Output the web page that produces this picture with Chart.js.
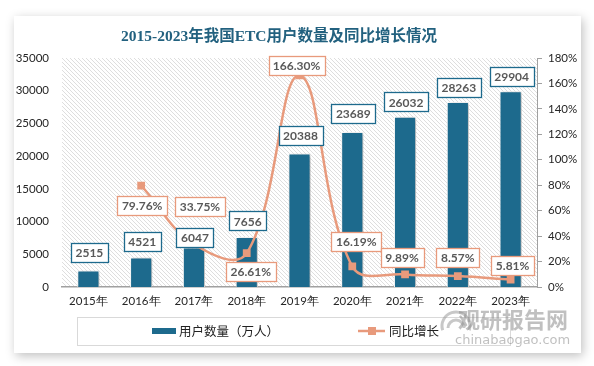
<!DOCTYPE html>
<html>
<head>
<meta charset="utf-8">
<script src="https://cdn.jsdelivr.net/npm/chart.js@4.4.1/dist/chart.umd.min.js"></script>
<style>
  html, body { margin: 0; padding: 0; background: #fff; }
  #card { position: absolute; left: 14px; top: 16px; width: 567px; height: 337px; background: #fff;
          box-shadow: 2px 3px 10px rgba(0,0,0,0.25); }
  #c { position: absolute; left: 0; top: 0; }
</style>
</head>
<body>
<div id="card"></div>
<canvas id="c" width="594" height="366"></canvas>
<script>
// data
const years = ['2015年', '2016年', '2017年', '2018年', '2019年', '2020年', '2021年', '2022年', '2023年'];
const users = [2515, 4521, 6047, 7656, 20388, 23689, 26032, 28263, 29904];
const growth = [null, 79.76, 33.75, 26.61, 166.30, 16.19, 9.89, 8.57, 5.81];
const userTicks = [0, 5000, 10000, 15000, 20000, 25000, 30000, 35000];
const growthTicks = [0, 20, 40, 60, 80, 100, 120, 140, 160, 180];

// where the labels sit (box centre relative to the mark)
const barLabelGap = [8, 6, 0, 6, 8, 9, 5, 5, 5];
const lineLabelDx = [0, 1, 6, 4, -3, 4, -3, 0, 2];
const lineLabelDy = [0, 20, -38, 18, -10, -25, -17, -19, -14];

const BLUE = '#1d6a8d';
const SALMON = '#e89a7c';
const LABEL_FONT = 'bold 12px Lato, "Noto Sans", sans-serif';

// hatch for plot background
const hatch = (function(){
    const c = document.createElement('canvas');
    c.width = 4; c.height = 4;
    const g = c.getContext('2d');
    g.fillStyle = '#fff';
    g.fillRect(0, 0, 4, 4);
    g.strokeStyle = '#dedede';
    g.lineWidth = 1;
    g.beginPath();
    g.moveTo(-1, -1); g.lineTo(5, 5);
    g.moveTo(-1, 3); g.lineTo(1, 5);
    g.moveTo(3, -1); g.lineTo(5, 1);
    g.stroke();
    return c;
})();

function labelBox(ctx, text, cx, cy, border) {
    ctx.font = LABEL_FONT;
    const w = Math.round(ctx.measureText(text).width) + 9;
    const h = 19;
    const x = Math.round(cx - w / 2) + 0.5, y = Math.round(cy - h / 2) + 0.5;
    ctx.fillStyle = '#fff';
    ctx.fillRect(x, y, w, h);
    ctx.strokeStyle = border;
    ctx.lineWidth = 1.3;
    ctx.strokeRect(x, y, w, h);
    ctx.fillStyle = '#595959';
    ctx.textAlign = 'center';
    ctx.textBaseline = 'middle';
    ctx.fillText(text, cx, cy + 1);
}

const extras = {
    id: 'extras',
    beforeDraw(chart) {
        const { ctx, chartArea: a } = chart;
        ctx.save();
        ctx.fillStyle = ctx.createPattern(hatch, 'repeat');
        ctx.fillRect(a.left, a.top, a.right - a.left, a.bottom - a.top);
        ctx.restore();
    },
    beforeDatasetDraw(chart, args) {
        if (args.index === 0) {
            const ctx = chart.ctx;
            ctx.save();
            ctx.shadowColor = 'rgba(0,0,0,0.3)';
            ctx.shadowBlur = 4;
            ctx.shadowOffsetX = 2;
            ctx.shadowOffsetY = 1;
        }
    },
    afterDatasetDraw(chart, args) {
        if (args.index === 0) chart.ctx.restore();
    },
    afterDatasetsDraw(chart) {
        const ctx = chart.ctx;
        ctx.save();
        const bars = chart.getDatasetMeta(0).data;
        bars.forEach((b, i) => {
            labelBox(ctx, String(users[i]), b.x + 1, b.y - barLabelGap[i] - 10, BLUE);
        });
        const pts = chart.getDatasetMeta(1).data;
        pts.forEach((p, i) => {
            if (growth[i] == null) return;
            labelBox(ctx, growth[i].toFixed(2) + '%', p.x + lineLabelDx[i], p.y + lineLabelDy[i], SALMON);
        });
        ctx.restore();
    },
    afterDraw(chart) {
        const { ctx, chartArea: a } = chart;
        ctx.save();
        // title
        ctx.fillStyle = '#22617f';
        ctx.font = 'bold 15.5px "Liberation Serif", "Noto Sans CJK SC", serif';
        ctx.textAlign = 'center';
        ctx.textBaseline = 'middle';
        ctx.fillText('2015-2023年我国ETC用户数量及同比增长情况', 279, 37);

        // odd little tick marks under the axis
        ctx.strokeStyle = '#555';
        ctx.lineWidth = 1;
        chart.getDatasetMeta(0).data.forEach(b => {
            const x = Math.round(b.x + b.width / 2) + 0.5;
            ctx.beginPath();
            ctx.moveTo(x, a.bottom + 9);
            ctx.lineTo(x, a.bottom + 14);
            ctx.stroke();
        });

        // legend
        ctx.strokeStyle = '#d9d9d9';
        ctx.strokeRect(77.5, 317.5, 433, 28);
        ctx.fillStyle = BLUE;
        ctx.fillRect(152, 328, 24, 6);
        ctx.strokeStyle = SALMON;
        ctx.lineWidth = 2.5;
        ctx.beginPath();
        ctx.moveTo(358, 331); ctx.lineTo(385, 331);
        ctx.stroke();
        ctx.fillStyle = SALMON;
        ctx.fillRect(368, 327, 8, 8);
        ctx.fillStyle = '#222';
        ctx.font = '12.5px "Noto Sans CJK SC", sans-serif';
        ctx.textAlign = 'left';
        ctx.fillText('用户数量（万人）', 179, 331);
        ctx.fillText('同比增长', 389, 331);

        // watermark
        ctx.globalAlpha = 0.55;
        ctx.strokeStyle = '#9a9a9a';
        ctx.lineWidth = 3;
        ctx.beginPath();
        ctx.arc(456, 326, 14, Math.PI * 0.9, Math.PI * 2.1);
        ctx.stroke();
        ctx.beginPath();
        ctx.arc(456, 328, 8, Math.PI * 1.0, Math.PI * 2.0);
        ctx.stroke();
        ctx.fillStyle = '#8c8c8c';
        ctx.font = 'bold 22px "Noto Sans CJK SC", sans-serif';
        ctx.fillText('观研报告网', 458, 320);
        ctx.font = '13px "DejaVu Sans", sans-serif';
        ctx.fillText('chinabaogao.com', 455, 341);
        ctx.restore();
    }
};

const data = {
    labels: years,
    datasets: [{
        type: 'bar',
        label: '用户数量（万人）',
        data: users,
        backgroundColor: BLUE,
        borderColor: '#ffffff',
        borderWidth: 1,
        barPercentage: 0.42,
        categoryPercentage: 1,
        yAxisID: 'y',
        order: 1
    }, {
        type: 'line',
        label: '同比增长',
        data: growth,
        borderColor: SALMON,
        backgroundColor: SALMON,
        borderWidth: 2.5,
        pointStyle: 'rect',
        pointRadius: 5.5,
        pointBorderWidth: 0,
        tension: 0.4,
        yAxisID: 'y1',
        order: 0
    }]
};

const config = {
    type: 'bar',
    data,
    options: {
        responsive: false,
        animation: false,
        layout: { padding: { top: 58, left: 0, right: 0, bottom: 59 } },
        plugins: {
            legend: { display: false },
            title: { display: false },
            tooltip: { enabled: false }
        },
        scales: {
            x: {
                grid: { display: false, drawTicks: false },
                border: { color: '#a0a0a0', width: 1.5 },
                ticks: { color: '#262626', font: { family: 'Lato', size: 11.5 }, padding: 7 },
                afterFit(s) { s.height = 20; }
            },
            y: {
                position: 'left',
                min: 0, max: 35000,
                afterBuildTicks(s) { s.ticks = userTicks.map(v => ({ value: v })); },
                grid: { display: false, drawTicks: false },
                border: { display: false },
                ticks: { color: '#262626', font: { family: 'Lato', size: 11.5 }, padding: 13,
                         callback: v => String(v) },
                afterFit(s) { s.width = 62; }
            },
            y1: {
                position: 'right',
                min: 0, max: 180,
                afterBuildTicks(s) { s.ticks = growthTicks.map(v => ({ value: v })); },
                grid: { drawOnChartArea: false, color: '#a0a0a0', tickLength: 5 },
                border: { color: '#a0a0a0', width: 1 },
                ticks: { color: '#262626', font: { family: 'Lato', size: 11.5 }, padding: 6,
                         callback: v => v + '%' },
                afterFit(s) { s.width = 57; }
            }
        }
    },
    plugins: [extras]
};

const myChart = new Chart(document.getElementById('c'), config);
</script>
</body>
</html>
